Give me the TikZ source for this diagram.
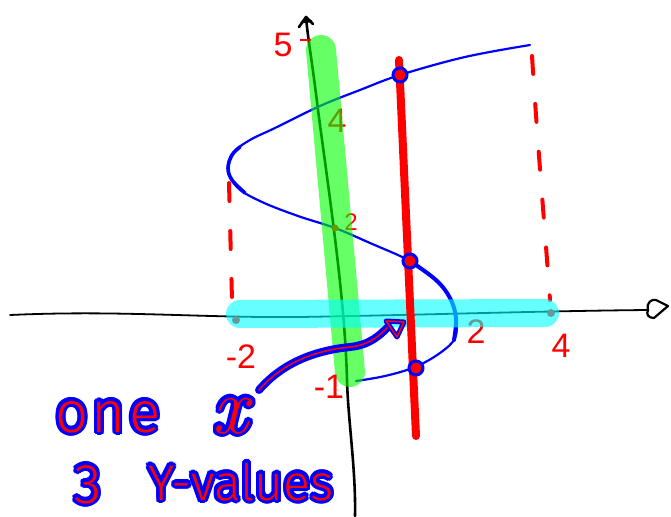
\documentclass[tikz,border=0pt]{standalone}
\usepackage{fontspec}
\newfontfamily\hand{Fira Sans Light}
\newfontfamily\handsp{Fira Sans Light}[LetterSpace=6]
\newfontfamily\lab{Liberation Sans}
\usetikzlibrary{calc}
\definecolor{hlc}{RGB}{0,255,255}
\definecolor{hlg}{RGB}{0,255,0}
\tikzset{
  axis/.style={black, line width=1.8pt, line cap=round, line join=round},
  curve/.style={blue, line width=2.2pt, line cap=round},
  reddash/.style={red, line width=4pt, line cap=round, dash pattern=on 18pt off 30pt},
  hlgreen/.style={draw=hlg, line width=30pt, line cap=round, draw opacity=0.6},
  hlcyan/.style={draw=hlc, line width=28pt, line cap=round, draw opacity=0.6},
  redline/.style={red, line width=8pt, line cap=round},
  dot/.style={circle, draw=blue, fill=red, line width=3pt, minimum size=14pt, inner sep=0pt},
  lbl/.style={text=red, inner sep=0pt, font=\lab\fontsize{34}{34}\selectfont},
  slbl/.style={text=red, inner sep=0pt, font=\lab\fontsize{24}{24}\selectfont},
  halo/.style={text=blue, inner sep=0pt, anchor=base west},
  core/.style={text=red, inner sep=0pt, anchor=base west},
}
\newcommand{\handtext}[4]{% position, name, font, text
  \foreach \a in {0,20,...,340}
    \node[halo, font=#3] at ($(#1)+(\a:3.2)$) {#4};
  \node[core, font=#3] (#2) at (#1) {#4};
}
\begin{document}
\begin{tikzpicture}[x=1pt,y=-1pt]
\useasboundingbox (0,0) rectangle (671,516);
% axes
\coordinate (xs) at (10,315);
\coordinate (xe) at (648,310);
\draw[axis] (xs) .. controls (120,310) and (200,318) .. (300,317)
  .. controls (420,315) and (540,311) .. (xe);
\draw[axis, line width=2.2pt] (xe) .. controls (646,302) and (652,299) .. (656,300)
  -- (668,306) -- (654,318) .. controls (648,318) and (646,314) .. (xe);
\coordinate (ys) at (355,516);
\coordinate (ye) at (306,17);
\draw[axis, line width=2.6pt] (ys) .. controls (356,470) and (348,420) .. (347,380)
  .. controls (345,300) and (330,200) .. (318,110)
  .. controls (312,60) and (308,40) .. (ye);
\draw[axis, line width=2.6pt] (299,27) -- (ye) -- (313,24);
\draw[axis, line width=2.6pt] (302,22) -- (311,21);
% blue curve x = f(y)
\draw[curve] plot[smooth, tension=0.6] coordinates {
  (356,381) (385,376) (415,367) (440,353) (455,338) (456,318)
  (450,298) (436,280) (410,261) (370,243) (335,228) (298,216)
  (262,202) (238,188) (228,170) (233,153) (250,140) (275,128)
  (320,106) (360,90) (400,75) (465,57) (530,45)};
\draw[curve, line width=4pt] plot[smooth, tension=0.6] coordinates {
  (410,261) (436,280) (450,298) (456,318) (454,340)};
\draw[curve, line width=3.6pt] plot[smooth, tension=0.6] coordinates {
  (245,193) (232,180) (228,168) (232,155) (240,147)};
% labels under the highlights
\node[lbl] (l4) at (337,121) {4};
\node[slbl] (l2) at (351,222) {2};
\node[lbl] (lx2) at (476,332) {2};
\fill[red] (236,320) circle (4pt);
\fill[red] (551,313) circle (4pt);
\fill[red] (335,228) circle (3.5pt);
% dashed guides
\draw[reddash] (229,183) -- (232,300);
\draw[reddash] (532,56) .. controls (538,150) and (545,230) .. (550,300);
% highlights
\draw[hlgreen] (321,50) -- (350,372);
\draw[hlcyan] (240,314) -- (545,313);
% red vertical line
\coordinate (rt) at (399,60);
\coordinate (rb) at (416,436);
\draw[redline] (rt) -- (rb);
\node[dot] (p1) at (400,75) {};
\node[dot] (p2) at (410,261) {};
\node[dot] (p3) at (416,368) {};
% tick labels
\draw[red, line width=2pt] (300,40) -- (311,40);
\node[lbl] (l5) at (283,45) {5};
\node[lbl] (lm2) at (241,357) {-2};
\node[lbl] (lx4) at (561,346) {4};
\node[lbl] (lm1) at (329,387) {-1};
% arrow
\coordinate (as) at (259,390);
\coordinate (ae) at (388,327);
\draw[blue, line width=8pt, line cap=round] (as) .. controls (285,360) and (320,350) .. (350,347) .. controls (370,345) and (380,335) .. (ae);
\draw[red, line width=1.5pt, line cap=round] (as) .. controls (285,360) and (320,350) .. (350,347) .. controls (370,345) and (380,335) .. (ae);
\draw[blue, line width=5pt, line join=round] (386,321) -- (404,322) -- (397,337) -- cycle;
\draw[red, line width=1.5pt, line join=round] (386,321) -- (404,322) -- (397,337) -- cycle;
% handwritten text
\handtext{55,432}{t1}{\handsp\fontsize{58}{58}\selectfont}{one}
\handtext{212,433}{t2}{\fontsize{80}{80}\selectfont\itshape}{x}
\handtext{74,503}{t3}{\hand\fontsize{56}{56}\selectfont}{3}
\handtext{148,500}{t4}{\hand\fontsize{50}{50}\selectfont}{Y-values}
\end{tikzpicture}
\end{document}
